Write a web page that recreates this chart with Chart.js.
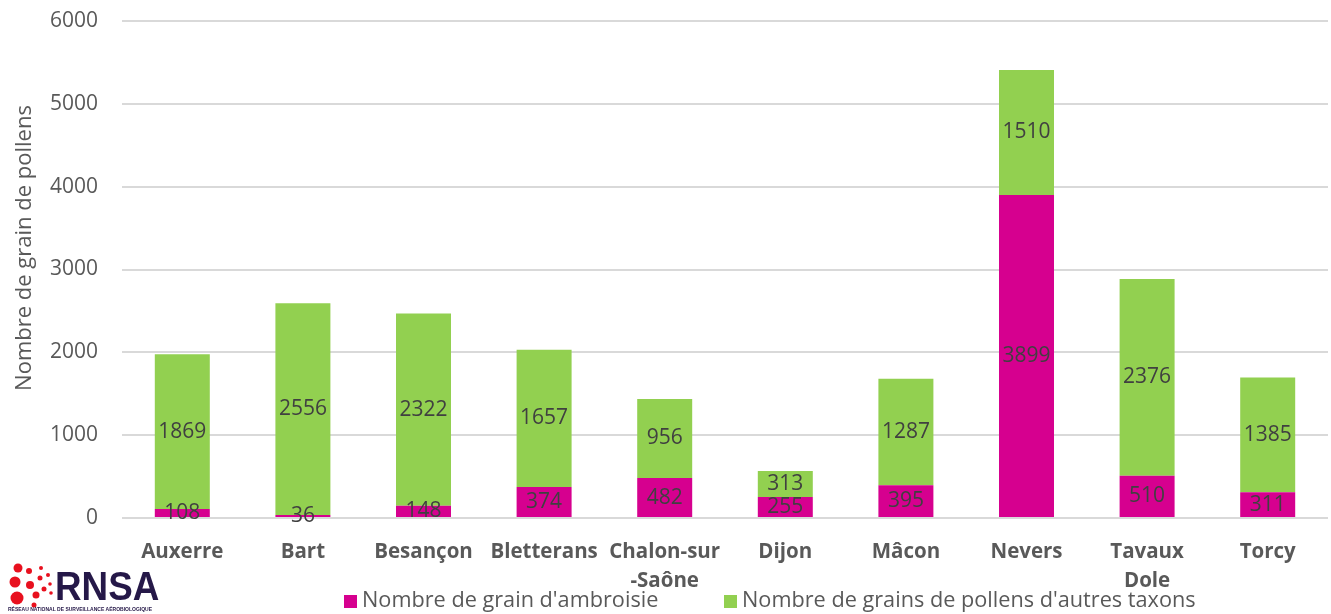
<!DOCTYPE html>
<html>
<head>
<meta charset="utf-8">
<script src="https://cdn.jsdelivr.net/npm/chart.js@4.4.1/dist/chart.umd.min.js"></script>
<style>
html,body{margin:0;padding:0;background:#fff;}
#wrap{width:1331px;height:614px;position:relative;}
</style>
</head>
<body>
<div id="wrap"><canvas id="c" width="1331" height="614"></canvas></div>
<script>
const categories = ["Auxerre","Bart","Besançon","Bletterans",["Chalon-sur","-Saône"],"Dijon","Mâcon","Nevers",["Tavaux","Dole"],"Torcy"];
const ambroisie = [108,36,148,374,482,255,395,3899,510,311];
const autresTaxons = [1869,2556,2322,1657,956,313,1287,1510,2376,1385];
const yTicks = [0,1000,2000,3000,4000,5000,6000];
const seriesNames = ["Nombre de grain d'ambroisie","Nombre de grains de pollens d'autres taxons"];
const seriesColors = ["#D6008F","#92D050"];
const yTitle = "Nombre de grain de pollens";

const FONT = "'Open Sans', 'DejaVu Sans', sans-serif";

const dataLabels = {
  id:'dataLabels',
  afterDatasetsDraw(chart){
    const ctx = chart.ctx;
    ctx.save();
    ctx.font = "21px " + FONT;
    ctx.fillStyle = "#404040";
    ctx.textAlign = "center";
    ctx.textBaseline = "middle";
    chart.data.datasets.forEach((ds,di)=>{
      const meta = chart.getDatasetMeta(di);
      meta.data.forEach((el,i)=>{
        const p = el.getProps(['x','y','base'],true);
        ctx.fillText(String(ds.data[i]), p.x, (p.y+p.base)/2);
      });
    });
    ctx.restore();
  }
};

const customLegend = {
  id:'customLegend',
  afterDraw(chart){
    const ctx = chart.ctx;
    ctx.save();
    ctx.font = "21.7px " + FONT;
    ctx.textBaseline = "middle";
    ctx.textAlign = "left";
    const starts = [344, 724];
    chart.data.datasets.forEach((ds,i)=>{
      const x = starts[i];
      ctx.fillStyle = ds.backgroundColor;
      ctx.fillRect(x, 595, 13, 13);
      ctx.fillStyle = "#595959";
      ctx.fillText(ds.label, x + 18, 601);
    });
    ctx.restore();
  }
};

const axisTitle = {
  id:'axisTitle',
  afterDraw(chart){
    const ctx = chart.ctx;
    ctx.save();
    ctx.font = "22px " + FONT;
    ctx.fillStyle = "#595959";
    ctx.textAlign = "center";
    ctx.textBaseline = "middle";
    ctx.translate(25, 248);
    ctx.rotate(-Math.PI/2);
    ctx.fillText(yTitle, 0, 0);
    ctx.restore();
  }
};

const logo = {
  id:'logo',
  afterDraw(chart){
    const ctx = chart.ctx;
    ctx.save();
    ctx.fillStyle = "#E8101E";
    const dots = [[18,568,4.5],[15,582,5.5],[17,598,6.5],[29,571,3],[30,585,4],[36,595,3.5],[40,578,2.5],[44,589,2.5],[41,568,2],[48,575,2],[50,584,1.8],[51,593,1.8],[34,605,2.5]];
    dots.forEach(d=>{ctx.beginPath();ctx.arc(d[0],d[1],d[2],0,Math.PI*2);ctx.fill();});
    ctx.fillStyle = "#251848";
    ctx.font = "bold 40px 'Liberation Sans', Arial, sans-serif";
    ctx.textBaseline = "alphabetic";
    ctx.textAlign = "left";
    ctx.save();
    ctx.translate(55, 600);
    ctx.scale(0.92, 1);
    ctx.fillText("RNSA", 0, 0);
    ctx.restore();
    ctx.font = "bold 5px 'Liberation Sans', Arial, sans-serif";
    ctx.fillText("RÉSEAU NATIONAL DE SURVEILLANCE AÉROBIOLOGIQUE", 8, 611);
    ctx.restore();
  }
};

new Chart(document.getElementById('c'), {
  type:'bar',
  data:{
    labels: categories,
    datasets:[
      {label: seriesNames[0], data: ambroisie, backgroundColor: seriesColors[0], barPercentage:0.456, categoryPercentage:1},
      {label: seriesNames[1], data: autresTaxons, backgroundColor: seriesColors[1], barPercentage:0.456, categoryPercentage:1}
    ]
  },
  options:{
    responsive:false,
    animation:false,
    layout:{padding:{top:21, right:3, left:0, bottom:0}},
    plugins:{legend:{display:false}, tooltip:{enabled:false}, title:{display:false}},
    scales:{
      x:{
        stacked:true,
        grid:{display:false},
        border:{display:false},
        ticks:{color:"#595959", font:{family:FONT, size:20.5, weight:'bold', lineHeight:1.45}, padding:11, maxRotation:0, autoSkip:false},
        afterFit(s){ s.height = 96; s.paddingLeft = 0; s.paddingRight = 0; }
      },
      y:{
        stacked:true,
        min:0, max:6000,
        afterBuildTicks(s){ s.ticks = yTicks.map(v=>({value:v})); },
        grid:{color:"#D9D9D9", lineWidth:2, drawTicks:false},
        border:{display:false},
        ticks:{color:"#595959", font:{family:FONT, size:21}, padding:24, callback:(v)=>String(v)},
        title:{display:false},
        afterFit(s){ s.width = 122; s.paddingTop = 0; s.paddingBottom = 0; }
      }
    }
  },
  plugins:[dataLabels, customLegend, axisTitle, logo]
});
</script>
</body>
</html>
